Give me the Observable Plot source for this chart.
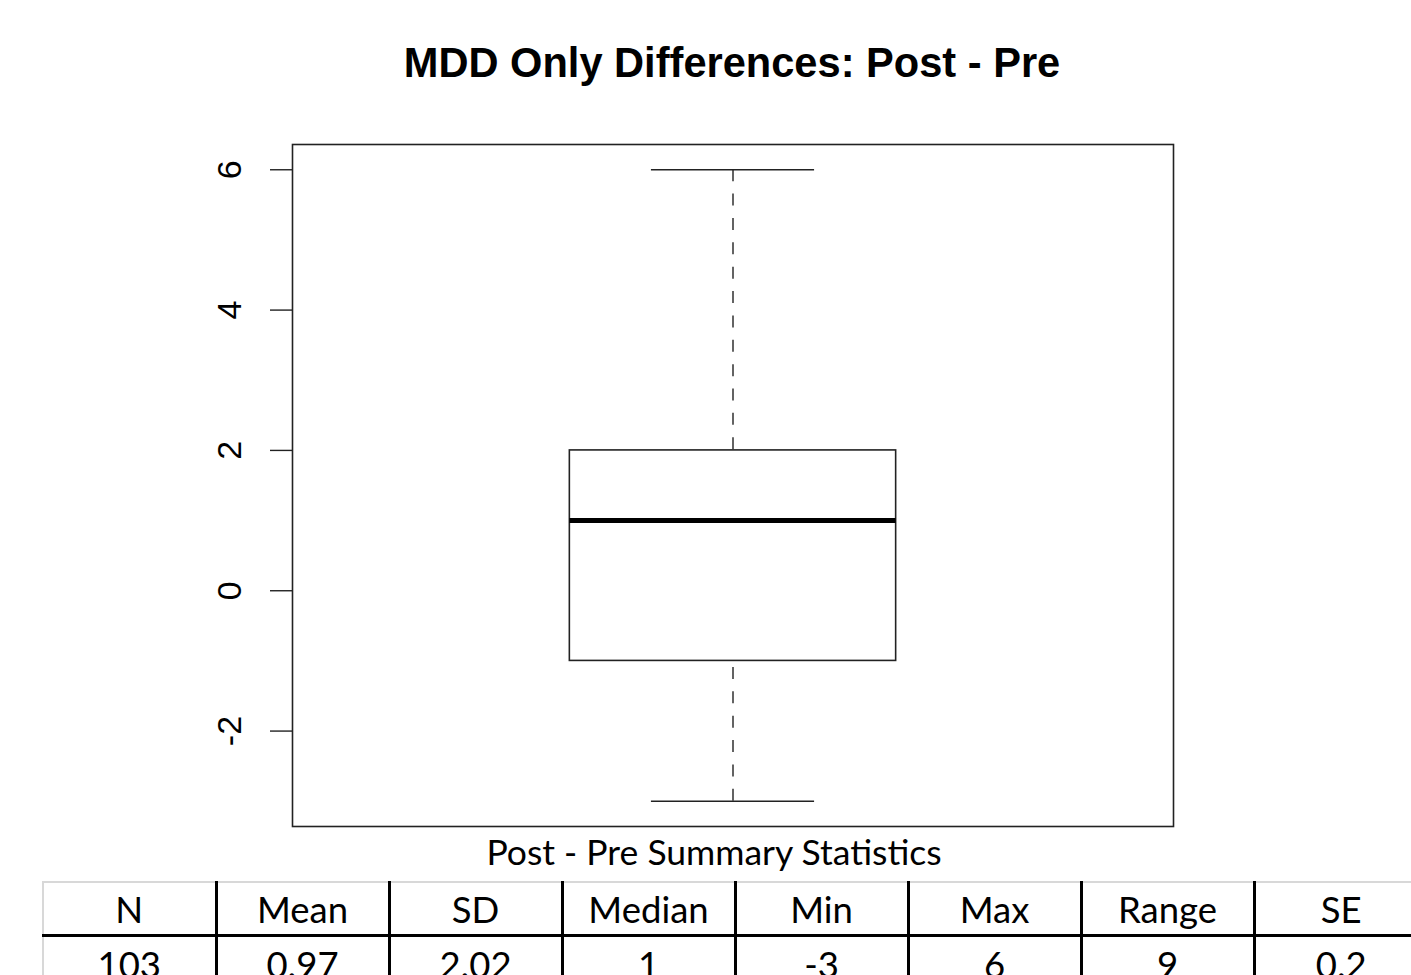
<!DOCTYPE html>
<html>
<head>
<meta charset="utf-8">
<script src="https://cdn.jsdelivr.net/npm/d3@7"></script>
<script src="https://cdn.jsdelivr.net/npm/@observablehq/plot@0.6"></script>
<style>
  html, body { margin: 0; padding: 0; background: #fff; overflow: hidden; width: 1411px; height: 975px; }
  #title { position: absolute; top: 42px; left: 732px; transform: translateX(-50%); white-space: nowrap;
    font-family: "Liberation Sans", Arial, sans-serif; font-weight: bold; font-size: 41.6px; line-height: 41px; color: #000; }
  #chart { position: absolute; top: 100px; left: 0; }
  #caption { position: absolute; top: 834px; left: 714px; transform: translateX(-50%); white-space: nowrap;
    font-family: Lato, "Open Sans", sans-serif; font-size: 35.5px; line-height: 36px; color: #000; }
  #stats { position: absolute; top: 881px; left: 42px; width: 1384px; border-collapse: collapse; table-layout: fixed;
    font-family: Lato, "Open Sans", sans-serif; font-size: 36.5px; color: #000; }
  #stats col { width: 173px; }
  #stats td { text-align: center; padding: 0; border-left: 3px solid #000; white-space: nowrap; }
  #stats td:first-child { border-left: 2px solid #d8d8d8; }
  #stats tr.head td { height: 51px; border-top: 2px solid #d8d8d8; border-bottom: 3px solid #000; }
  #stats tr.body td { height: 54px; }
</style>
</head>
<body>
<div id="title"></div>
<div id="chart"></div>
<div id="caption"></div>
<table id="stats"></table>
<script>
// ---- data ----
const titleText = "MDD Only Differences: Post - Pre";
const captionText = "Post - Pre Summary Statistics";
const fiveNumLabels = ["min", "q1", "median", "q3", "max"];
const fiveNumValues = [-3, -1, 1, 2, 6];
const yTicks = [-2, 0, 2, 4, 6];
const statHeaders = ["N", "Mean", "SD", "Median", "Min", "Max", "Range", "SE"];
const statValues = ["103", "0.97", "2.02", "1", "-3", "6", "9", "0.2"];

// ---- build ----
const s = Object.fromEntries(fiveNumLabels.map((k, i) => [k, fiveNumValues[i]]));
const box = [{x1: 0.8, x2: 1.2, y1: s.q1, y2: s.q3}];
const whiskers = [{y1: s.max, y2: s.q3}, {y1: s.min, y2: s.q1}];
const caps = [s.min, s.max];
const rng = s.max - s.min;
const ink = "#222";

const plot = Plot.plot({
  width: 1411,
  height: 740,
  marginTop: 44,
  marginBottom: 14,
  marginLeft: 292,
  marginRight: 238,
  x: {domain: [0.46, 1.54], axis: null},
  y: {domain: [s.min - 0.04 * rng, s.max + 0.04 * rng], axis: null},
  style: {background: "transparent", overflow: "visible"},
  marks: [
    Plot.frame({stroke: ink, strokeWidth: 1.6}),
    Plot.axisY({ticks: yTicks, tickSize: 22, tickFormat: () => "", stroke: ink, strokeWidth: 1.4, strokeOpacity: 1}),
    Plot.text(yTicks, {y: d => d, frameAnchor: "left", dx: -62, text: d => String(d), rotate: -90,
      textAnchor: "middle", lineAnchor: "middle", fontSize: 34, fontFamily: "Liberation Sans, Arial, sans-serif", fill: "#000"}),
    Plot.ruleX(whiskers, {x: 1, y1: "y1", y2: "y2", stroke: ink, strokeWidth: 1.4, strokeDasharray: "12,12.36"}),
    Plot.ruleY(caps, {y: d => d, x1: 0.9, x2: 1.1, stroke: ink, strokeWidth: 1.6}),
    Plot.rect(box, {x1: "x1", x2: "x2", y1: "y1", y2: "y2", fill: "white", stroke: ink, strokeWidth: 1.6}),
    Plot.ruleY([s.median], {y: d => d, x1: 0.8, x2: 1.2, stroke: "#000", strokeWidth: 5})
  ]
});
document.getElementById("chart").appendChild(plot);
document.getElementById("title").textContent = titleText;
document.getElementById("caption").textContent = captionText;

const table = document.getElementById("stats");
const cg = document.createElement("colgroup");
statHeaders.forEach(() => cg.appendChild(document.createElement("col")));
table.appendChild(cg);
const hr = table.insertRow(); hr.className = "head";
statHeaders.forEach(h => { hr.insertCell().textContent = h; });
const br = table.insertRow(); br.className = "body";
statValues.forEach(v => { br.insertCell().textContent = v; });
</script>
</body>
</html>
